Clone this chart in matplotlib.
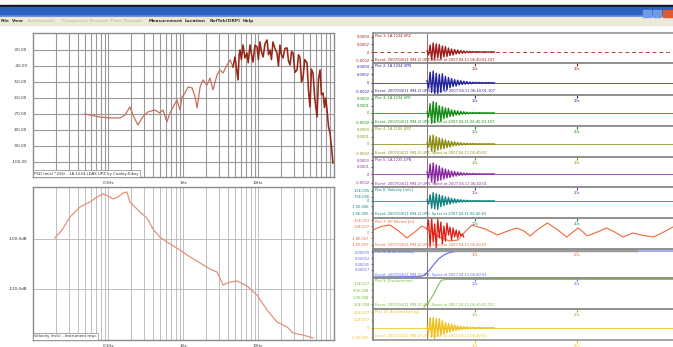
import numpy as np
import matplotlib
matplotlib.use("Agg")
import matplotlib.pyplot as plt
from matplotlib.patches import Rectangle
from matplotlib.ticker import LogLocator, NullFormatter

# ---------------- data ----------------
psd_freq = [0.049, 0.078, 0.106, 0.145, 0.169, 0.196, 0.215, 0.25, 0.29, 0.34, 0.42, 0.49, 0.54, 0.61,
            0.67, 0.74, 0.83, 0.91, 0.97, 1.06, 1.17, 1.32, 1.45, 1.54, 1.69, 1.85, 2.09, 2.29, 2.51,
            2.84, 3.11, 3.41, 3.86, 4.24, 4.64, 4.93, 5.41, 5.6, 5.75, 6.0, 6.31, 6.7, 7.13, 7.4, 7.82,
            8.2, 8.58, 9.1, 9.7, 10.1, 10.6, 11.1, 11.7, 12.4, 13.2, 13.8, 14.5, 15.1, 15.8, 16.8, 17.9,
            18.7, 19.6, 20.5, 21.5, 22.9, 24.4, 25.5, 26.7, 28.0, 29.3, 31.0, 33.1, 34.7, 36.3, 38.0,
            39.8, 42.0, 45.0, 47.0, 49.3, 51.5, 54.1, 57.0, 61.2, 64.0, 67.1, 70.0, 73.6, 77.0, 80.0,
            83.2, 87.0, 91.2, 94.0, 97.0, 99.5]
psd_db = [-70, -71.9, -72.5, -72.5, -70.6, -65.6, -70.6, -76.9, -71.9, -68.75, -67.5, -69.4, -67.5, -75,
          -69.4, -65.6, -61.25, -67.5, -59.4, -56.9, -53.1, -53.75, -59.4, -66.25, -53.1, -48.75, -51.9,
          -47.5, -55, -45.6, -42.5, -44.4, -39.4, -36.25, -40.6, -34.4, -48.75, -33, -30, -36, -26.9, -35,
          -31.9, -38, -26.9, -33, -37.5, -27, -28.1, -36, -25, -31, -34.4, -26, -23.75, -33, -30, -36, -25,
          -29, -31.9, -40, -26.9, -33, -35, -29, -28.75, -37, -39.4, -31, -31.9, -44, -42.5, -33, -35, -50,
          -46.9, -36, -38.1, -55, -65.6, -42, -44.4, -60, -71.9, -48, -42.5, -58, -56.9, -66, -60, -67.5,
          -78, -81.9, -88, -94.4, -100.6]

resp_freq = [0.0196, 0.0244, 0.0311, 0.0424, 0.0575, 0.0713, 0.0857, 0.1, 0.117, 0.136, 0.158, 0.179,
             0.196, 0.215, 0.267, 0.331, 0.398, 0.49, 0.61, 0.91, 1.13, 1.69, 2.29, 2.84, 3.11, 3.41,
             4.24, 5.25, 7.13, 9.7, 13.2, 17.9, 24.4, 29.3, 39.8, 54.1]
resp_db = [-99.6, -96.4, -91.2, -87.2, -85.2, -83.2, -82.0, -82.8, -84.0, -83.2, -81.6, -81.2, -85.2,
           -86.4, -89.2, -91.6, -96.0, -99.2, -101.2, -104.4, -106.4, -109.6, -112.0, -113.2, -115.6,
           -118.4, -117.2, -116.8, -118.8, -122.4, -128.4, -133.2, -135.2, -137.6, -138.4, -139.6]

psd_yticks = [-30, -40, -50, -60, -70, -80, -90, -100]
resp_yticks = [-100, -120]
freq_ticks = [0.1, 1, 10]
freq_labels = ["0.1Hz", "1Hz", "10Hz"]

# seismogram panels
trace_colors = ['#a01818', '#24249a', '#168a16', '#8c8c14', '#8a2aa0', '#148080',
                '#f0683c', '#5a6ae0', '#78b83a', '#f0c020']
event_time = 5.3
time_ticks = [10, 20]
time_labels = ["10s", "20s"]

burst_1 = [0.1, -0.3, 0.7, -0.8, 0.9, -0.7, 0.8, -0.6, 0.75, -0.7, 0.6, -0.5, 0.55, -0.45, 0.4, -0.35,
           0.3, -0.3, 0.25, -0.2, 0.2, -0.15, 0.15, -0.12, 0.1, -0.1, 0.08, -0.07, 0.06, -0.05, 0.05,
           -0.04, 0.04, -0.03, 0.03, -0.02, 0.02, -0.02, 0.02, -0.01, 0.01, -0.01, 0.01, -0.01, 0.0]
burst_2 = [0.2, -0.5, 1.0, -0.9, 1.1, -1.0, 0.9, -1.0, 0.8, -0.9, 0.85, -0.7, 0.6, -0.65, 0.5, -0.45,
           0.4, -0.35, 0.3, -0.3, 0.25, -0.2, 0.2, -0.15, 0.15, -0.12, 0.12, -0.1, 0.08, -0.08, 0.06,
           -0.05, 0.05, -0.04, 0.04, -0.03, 0.03, -0.03, 0.02, -0.02, 0.02, -0.01, 0.01, -0.01, 0.0]
burst_3 = [0.1, -0.4, 0.9, -1.0, 1.1, -0.9, 1.0, -0.8, 0.7, -0.8, 0.6, -0.55, 0.5, -0.45, 0.45, -0.35,
           0.3, -0.3, 0.25, -0.2, 0.2, -0.18, 0.15, -0.12, 0.12, -0.1, 0.08, -0.08, 0.06, -0.05, 0.05,
           -0.04, 0.04, -0.03, 0.03, -0.02, 0.02, -0.02, 0.02, -0.01, 0.01, -0.01, 0.01, 0.0, 0.0]
burst_4 = [0.1, -0.3, 0.8, -0.7, 0.85, -0.75, 0.7, -0.6, 0.6, -0.5, 0.5, -0.45, 0.4, -0.35, 0.3, -0.3,
           0.25, -0.2, 0.2, -0.15, 0.15, -0.12, 0.12, -0.1, 0.08, -0.07, 0.06, -0.05, 0.05, -0.04, 0.04,
           -0.03, 0.03, -0.02, 0.02, -0.02, 0.02, -0.01, 0.01, -0.01, 0.01, 0.0, 0.0, 0.0, 0.0]
burst_5 = [0.2, -0.4, 1.0, -0.8, 1.1, -0.9, 0.9, -0.7, 0.8, -0.6, 0.6, -0.5, 0.5, -0.4, 0.4, -0.35,
           0.3, -0.25, 0.25, -0.2, 0.2, -0.15, 0.15, -0.12, 0.1, -0.1, 0.08, -0.07, 0.06, -0.05, 0.05,
           -0.04, 0.04, -0.03, 0.03, -0.03, 0.02, -0.02, 0.02, -0.01, 0.01, -0.01, 0.01, 0.0, 0.0]
burst_6 = [0.1, -0.3, 0.6, -0.7, 0.8, -0.75, 0.7, -0.8, 0.6, -0.55, 0.5, -0.45, 0.4, -0.35, 0.35, -0.3,
           0.25, -0.2, 0.2, -0.18, 0.15, -0.12, 0.12, -0.1, 0.08, -0.08, 0.06, -0.05, 0.05, -0.04, 0.04,
           -0.03, 0.03, -0.02, 0.02, -0.02, 0.02, -0.01, 0.01, -0.01, 0.01, 0.0, 0.0, 0.0, 0.0]
burst_10 = [0.2, -0.5, 1.0, -0.9, 1.0, -1.0, 0.9, -0.8, 0.9, -0.7, 0.7, -0.6, 0.5, -0.5, 0.45, -0.4,
            0.35, -0.3, 0.3, -0.25, 0.2, -0.2, 0.15, -0.15, 0.12, -0.1, 0.1, -0.08, 0.07, -0.06, 0.05,
            -0.05, 0.04, -0.03, 0.03, -0.03, 0.02, -0.02, 0.02, -0.01, 0.01, -0.01, 0.01, 0.0, 0.0]
burst_dt = 0.15

wave7_t = [0, 0.8, 1.67, 2.5, 3.33, 4.1, 4.8, 5.3, 6.5, 7.5, 8.33, 9.0, 9.7, 11.0, 12.2, 13.2, 14.1, 14.8,
           15.4, 16.2, 17.1, 18.0, 19.0, 19.6, 20.1, 20.6, 21.0, 22.0, 22.9, 23.7, 24.5, 25.0, 25.5, 26.5,
           27.5, 28.5, 29.4, 30]
wave7_v = [0.2, 0.55, 0.7, 0.1, -0.6, 0.0, 0.6, 0.3, -0.5, -0.9, -0.8, 0.0, 0.7, 0.3, -0.3, 0.1, 0.4,
           0.1, -0.4, 0.3, 0.9, 0.3, -0.5, 0.0, 0.4, 0.0, -0.4, 0.0, 0.4, 0.0, -0.5, -0.3, -0.1, -0.35,
           -0.5, 0.0, 0.5, 0.6]
burst_7 = [0.3, 1.2, -1.5, 1.4, -1.0, 0.8, -1.6, 1.3, -0.6, 1.0, -1.2, 0.6, -0.9, 0.9, -0.3, 0.5, -0.8,
           0.4, -0.5, 0.2, -0.6, 0.1, -0.4, -0.2, -0.5]

step8_t = [0, 4.5, 5.0, 5.5, 6.0, 6.5, 7.0, 7.5, 8.0, 9.0, 30]
step8_v = [0.0, 0.01, 0.06, 0.25, 0.5, 0.72, 0.86, 0.94, 0.98, 1.0, 1.0]
step9_t = [5.0, 5.5, 6.0, 6.4, 6.7, 7.2, 30]
step9_v = [0.0, 0.2, 0.5, 0.8, 0.97, 1.0, 1.0]

panel_tick_vals = [
    [1.5, 0.8, 0, -0.8], [1.5, 0.8, 0, -0.8], [1.4, 0.7, 0, -0.9], [1.4, 0.7, 0, -0.9],
    [1.4, 0.7, 0, -0.9], [1.0, 0.4, 0, -0.5, -1.2], [1.2, 0.6, 0, -0.6, -1.3],
    [0.95, 0.72, 0.5, 0.27], [0.85, 0.6, 0.35, 0.1], [1.5, 0.8, 0, -0.9]]
panel_tick_labels = [
    ["0.0004", "0.0002", "0", "-0.0002"], ["0.0004", "0.0002", "0", "-0.0002"],
    ["0.0003", "0.0001", "0", "-0.0002"], ["0.0003", "0.0001", "0", "-0.0002"],
    ["0.0003", "0.0001", "0", "-0.0002"], ["1.5E-005", "7.5E-006", "0", "-7.5E-006", "-1.5E-005"],
    ["3.5E-007", "1.8E-007", "0", "-1.8E-007", "-3.5E-007"],
    ["0.00070", "0.00052", "0.00035", "0.00017"],
    ["1.3E-007", "9.0E-008", "5.0E-008", "1.0E-008"],
    ["2.5E-007", "1.2E-007", "0", "-1.2E-007"]]
panel_titles = ["Plot 1: 1A.1234.UPZ", "Plot 2: 1A.1234.UPN", "Plot 3: 1A.1234.UPE", "Plot 4: 1A.1235.UPZ",
                "Plot 5: 1A.1235.UPN", "Plot 6: Velocity [m/s]", "Plot 7: HP filtered [m]",
                "Plot 8: Arias intensity", "Plot 9: Displacement", "Plot 10: Acceleration [g]"]
panel_notes = ["Event: 2007/04/11 (M4.2) UPZ, Spect at 2007.04.11 06:40:01.107",
               "Event: 2007/04/11 (M4.2) UPN, Spect at 2007.04.11 06:40:01.107",
               "Event: 2007/04/11 (M4.2) UPE, Spect at 2007.04.11 06:40:01.107",
               "Event: 2007/04/11 (M4.2) UPZ, Spect at 2007.04.11 06:40:01",
               "Event: 2007/04/11 (M4.2) UPN, Spect at 2007.04.11 06:40:01",
               "Event: 2007/04/11 (M4.2) UPE, Spect at 2007.04.11 06:40:01",
               "Event: 2007/04/11 (M4.2) UPZ, Spect at 2007.04.11 06:40:01",
               "Event: 2007/04/11 (M4.2) UPZ, Spect at 2007.04.11 06:40:01",
               "Event: 2007/04/11 (M4.2) UPZ, Spect at 2007.04.11 06:40:01.107",
               "Event: 2007/04/11 (M4.2) UPZ, Spect at 2007.04.11 06:40:01"]
menu_items = ["File", "View", "Instrument", "Frequency Domain", "Time Domain",
              "Measurement", "Location", "RefTek(DRP)", "Help"]

# ---------------- layout helpers ----------------
W, H = 673, 347
fig = plt.figure(figsize=(6.73, 3.47), dpi=100)
fig.patch.set_facecolor('white')


def rect(x0, y0, x1, y1):
    return [x0 / W, 1 - y1 / H, (x1 - x0) / W, (y1 - y0) / H]


# window chrome
bg = fig.add_axes([0, 0, 1, 1])
bg.set_xlim(0, W)
bg.set_ylim(H, 0)
bg.axis('off')
bg.add_patch(Rectangle((0, 4.5), W, 2.5, color='#151515'))
bg.add_patch(Rectangle((0, 7), W, 10, color='#2c5fbf'))
bg.add_patch(Rectangle((0, 14.5), W, 2.5, color='#4d80d8'))
bg.add_patch(Rectangle((0, 17), W, 8, color='#ece9d8'))
bg.add_patch(Rectangle((643, 9.5), 8, 7, color='#6e9ae6'))
bg.add_patch(Rectangle((653, 9.5), 8, 7, color='#6e9ae6'))
bg.add_patch(Rectangle((663, 9.5), 10, 7, color='#e0582e'))
menu_x = [1, 12, 28, 62, 110, 149, 185, 210, 243]
for mx, item in zip(menu_x, menu_items):
    grey = item in ("Instrument", "Frequency Domain", "Time Domain")
    bg.text(mx, 21.3, item, fontsize=3.2, va='center', ha='left',
            color='#c9c4ae' if grey else '#333333', fontweight='bold')

# ---------------- PSD plot ----------------
ax1 = fig.add_axes(rect(33, 33, 334, 177))
ax1.set_xscale('log')
ax1.set_xlim(0.01, 103)
ax1.set_ylim(-109.4, -19.4)
split = next(i for i, f in enumerate(psd_freq) if f >= 4.5)
ax1.plot(psd_freq[:split + 1], psd_db[:split + 1], color='#c8705c', lw=0.9, zorder=3)
ax1.plot(psd_freq[split:], psd_db[split:], color='#962818', lw=1.15, zorder=3)
ax1.set_yticks(psd_yticks)
ax1.set_yticklabels([f"{v:.2f}" for v in psd_yticks])
ax1.set_xticks(freq_ticks)
ax1.set_xticklabels(freq_labels)
ax1.xaxis.set_minor_locator(LogLocator(base=10, subs=np.arange(2, 10)))
ax1.xaxis.set_minor_formatter(NullFormatter())
ax1.grid(True, which='both', color='#9a9a9a', lw=0.8)
ax1.tick_params(which='both', length=0, labelsize=3, pad=4, colors='#333333')
ax1.tick_params(axis='x', pad=3)
for s in ax1.spines.values():
    s.set_color('#8a8a8a')
    s.set_linewidth(1.0)
ax1.text(0.003, 0.01, "PSD (m/s)^2/Hz - 1A.1234.LDAX.UPZ by Cooley-Tukey", transform=ax1.transAxes,
         fontsize=2.8, va='bottom', ha='left', color='#333333',
         bbox=dict(fc='white', ec='#888888', lw=0.5, pad=0.8))

# ---------------- response plot ----------------
ax2 = fig.add_axes(rect(33, 187, 334, 340))
ax2.set_xscale('log')
ax2.set_xlim(0.01, 103)
ax2.set_ylim(-140.4, -79.2)
ax2.plot(resp_freq, resp_db, color='#e0937a', lw=0.9, zorder=3)
ax2.set_yticks(resp_yticks)
ax2.set_yticklabels([f"{v:.1f}dB" for v in resp_yticks])
ax2.set_xticks(freq_ticks)
ax2.set_xticklabels(freq_labels)
ax2.xaxis.set_minor_locator(LogLocator(base=10, subs=np.arange(2, 10)))
ax2.xaxis.set_minor_formatter(NullFormatter())
ax2.grid(True, which='both', color='#b5b5b5', lw=0.6)
ax2.tick_params(which='both', length=0, labelsize=3, pad=4, colors='#333333')
ax2.tick_params(axis='x', pad=3)
for s in ax2.spines.values():
    s.set_color('#8a8a8a')
    s.set_linewidth(1.0)
ax2.text(0.003, 0.01, "Velocity (m/s) - Instrument resp.", transform=ax2.transAxes,
         fontsize=2.8, va='bottom', ha='left', color='#333333',
         bbox=dict(fc='white', ec='#888888', lw=0.5, pad=0.8))

# ---------------- seismogram panels ----------------
tops = [33, 63, 95, 126, 157, 187, 218, 249, 278, 309]
bots = [63, 95, 126, 157, 187, 218, 249, 278, 309, 340]
ylims = [(-1.1, 1.9), (-1.14, 1.86), (-1.26, 1.74), (-1.26, 1.74), (-1.3, 1.7), (-1.65, 1.35),
         (-1.7, 1.4), (-0.04, 1.08), (-0.07, 1.05), (-1.17, 1.83)]
bursts = {0: burst_1, 1: burst_2, 2: burst_3, 3: burst_4, 4: burst_5, 5: burst_6, 9: burst_10}

for i in range(10):
    c = trace_colors[i]
    ax = fig.add_axes(rect(373, tops[i], 679, bots[i]))
    ax.set_facecolor('none')
    ax.set_xlim(0, 30)
    ax.set_ylim(*ylims[i])
    ax.axvline(event_time, color='#7a5a5a', lw=0.6, zorder=1)
    if i in bursts:
        b = bursts[i]
        tb = event_time + burst_dt * np.arange(len(b))
        ls = (0, (4, 3)) if i == 0 else '-'
        ax.axhline(0, color=c, lw=0.7, ls=ls, alpha=0.8)
        ax.plot(tb, b, color=c, lw=1.0)
    elif i == 6:
        ax.plot(wave7_t, wave7_v, color=c, lw=0.8)
        tb = event_time + burst_dt * np.arange(len(burst_7))
        ax.plot(tb, burst_7, color='#e01a10', lw=0.9)
    elif i == 7:
        ax.plot(step8_t, step8_v, color=c, lw=0.8)
        ax.axhline(ylims[i][1] - 0.04, xmin=0, xmax=0.86, color='#9a9a9a', lw=2.5)
    elif i == 8:
        ax.plot(step9_t, step9_v, color=c, lw=0.8, alpha=0.9)
    ax.set_yticks(panel_tick_vals[i])
    ax.set_yticklabels(panel_tick_labels[i])
    ax.set_xticks(time_ticks)
    ax.set_xticklabels(time_labels)
    ax.tick_params(axis='y', labelsize=2.6, pad=1, length=1.5, colors=c)
    ax.tick_params(axis='x', labelsize=2.6, pad=1, length=2, colors=c, direction='out')
    for s in ax.spines.values():
        s.set_color('#8c8c8c')
        s.set_linewidth(1.1)
    ax.spines['left'].set_color('#6a6a6a')
    ax.text(0.006, 0.96, panel_titles[i], transform=ax.transAxes, fontsize=2.6,
            va='top', ha='left', color=c)
    ax.text(0.006, 0.05, panel_notes[i], transform=ax.transAxes, fontsize=2.6,
            va='bottom', ha='left', color=c)

fig.savefig("out.png", dpi=100)
